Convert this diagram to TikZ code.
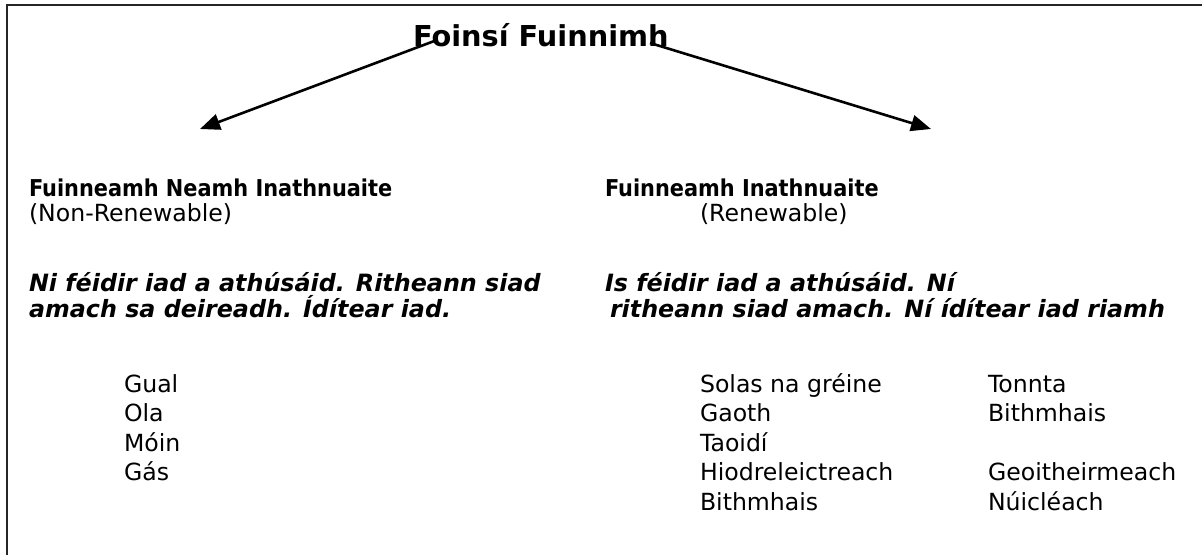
\documentclass[tikz,border=0pt]{standalone}
\usepackage{fontspec}
\setmainfont{DejaVu Sans}
\newfontfamily\condfont{DejaVu Sans Condensed}
\usetikzlibrary{arrows.meta}
\tikzset{
  txt/.style={anchor=base west, inner sep=0pt, outer sep=0pt, font=\fontsize{11.8pt}{14pt}\selectfont},
  hd/.style={txt, font=\condfont\fontsize{11.6pt}{14pt}\selectfont\bfseries},
  it/.style={txt, font=\fontsize{11.9pt}{14pt}\selectfont\bfseries\itshape},
  ttl/.style={txt, font=\fontsize{14.4pt}{17pt}\selectfont\bfseries},
  conn/.style={line width=1.3pt, -{Triangle[length=10pt,width=8pt]}},
  frame/.style={line width=1pt, draw=black!85}
}
\begin{document}
\begin{tikzpicture}[x=0.5pt, y=-0.5pt]
\useasboundingbox (0,0) rectangle (1202,555);
\draw[frame] (1202,5) -- (6.5,5) -- (6.5,555);

\node[ttl] (title) at (413,47) {Foinsí Fuinnimh};

\node[hd] (lhead) at (29,197) {Fuinneamh Neamh Inathnuaite};
\node[txt] (lsub) at (29,222) {(Non-Renewable)};
\node[it] (ld1) at (29,292) {Ni féidir iad a athúsáid. Ritheann siad};
\node[it] (ld2) at (29,317) {amach sa deireadh. Ídítear iad.};
\node[txt] (l1) at (124,392) {Gual};
\node[txt] (l2) at (124,421.5) {Ola};
\node[txt] (l3) at (124,451) {Móin};
\node[txt] (l4) at (124,480.5) {Gás};

\node[hd] (rhead) at (605,197) {Fuinneamh Inathnuaite};
\node[txt] (rsub) at (700,222) {(Renewable)};
\node[it] (rd1) at (605,292) {Is féidir iad a athúsáid. Ní};
\node[it] (rd2) at (610,317) {ritheann siad amach. Ní ídítear iad riamh};
\node[txt] (r1) at (700,392) {Solas na gréine};
\node[txt] (r2) at (700,421.5) {Gaoth};
\node[txt] (r3) at (700,451) {Taoidí};
\node[txt] (r4) at (700,480.5) {Hiodreleictreach};
\node[txt] (r5) at (700,510) {Bithmhais};
\node[txt] (s1) at (988,392) {Tonnta};
\node[txt] (s2) at (988,421.5) {Bithmhais};
\node[txt] (s4) at (988,480.5) {Geoitheirmeach};
\node[txt] (s5) at (988,510) {Núicléach};

\coordinate (ls) at (437,40);
\coordinate (le) at (200,129);
\coordinate (rs) at (650,43);
\coordinate (re) at (931,129);
\draw[conn] (ls) -- (le);
\draw[conn] (rs) -- (re);
\end{tikzpicture}
\end{document}
